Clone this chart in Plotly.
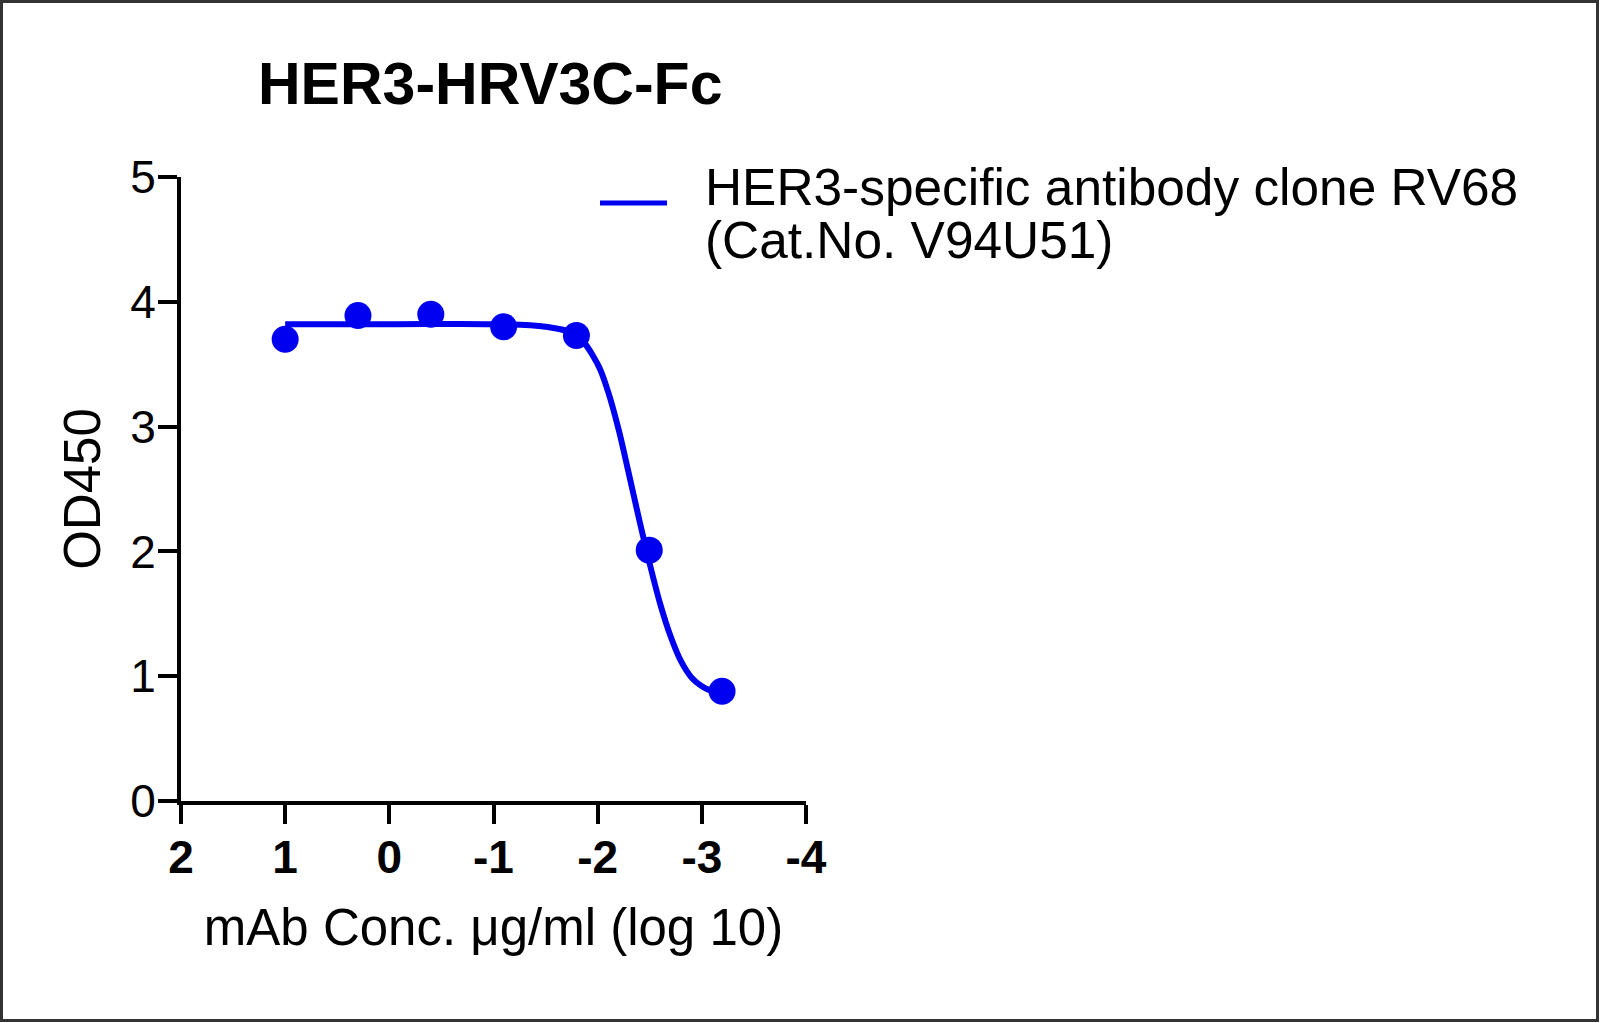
import plotly.graph_objects as go

# ---- data ----
log_conc = [1.0, 0.301, -0.398, -1.097, -1.796, -2.495, -3.194]
od450 = [3.70, 3.89, 3.90, 3.80, 3.73, 2.01, 0.88]

fit_x = [1.0, 0.0, -1.0, -1.5, -1.8, -2.0, -2.1, -2.2, -2.3, -2.4, -2.5,
         -2.6, -2.7, -2.8, -2.9, -3.0, -3.1, -3.2]
fit_y = [3.82, 3.82, 3.82, 3.80, 3.73, 3.50, 3.28, 2.98, 2.62, 2.25, 1.90,
         1.58, 1.32, 1.12, 0.99, 0.92, 0.88, 0.86]

x_tick_vals = [2, 1, 0, -1, -2, -3, -4]
x_tick_text = ["2", "1", "0", "-1", "-2", "-3", "-4"]
y_tick_vals = [0, 1, 2, 3, 4, 5]
y_tick_text = ["0", "1", "2", "3", "4", "5"]

title_text = "HER3-HRV3C-Fc"
legend_line1 = "HER3-specific antibody clone RV68"
legend_line2 = "(Cat.No. V94U51)"
x_title = "mAb Conc. μg/ml (log 10)"
y_title = "OD450"

# ---- layout geometry ----
W, H = 1600, 1023
L, R, T, B = 181, 1600 - 806, 177, 1023 - 801
PW, PH = W - L - R, H - T - B
FONT = "Liberation Sans, Arial, sans-serif"
BLUE = "#0000F0"


def px_x(p):
    return (p - L) / PW


def px_y(p):
    return (H - B - p) / PH


fig = go.Figure()
fig.add_trace(go.Scatter(x=fit_x, y=fit_y, mode="lines", line_shape="spline",
                         line=dict(color=BLUE, width=6), showlegend=False,
                         hoverinfo="skip"))
fig.add_trace(go.Scatter(x=log_conc, y=od450, mode="markers",
                         marker=dict(color=BLUE, size=27, line=dict(width=0)),
                         showlegend=False))

axis_common = dict(showline=True, linecolor="black", linewidth=4,
                   ticks="outside", ticklen=19, tickwidth=4, tickcolor="black",
                   showgrid=False, zeroline=False, mirror=False)

fig.update_xaxes(range=[2, -4], tickmode="array", tickvals=x_tick_vals,
                 ticktext=x_tick_text, ticklabelstandoff=-6,
                 tickfont=dict(family=FONT, size=46, color="black", weight="bold"),
                 title=dict(text=x_title, font=dict(family=FONT, size=51, color="black"),
                            standoff=28),
                 **axis_common)
fig.update_yaxes(range=[0, 5], tickmode="array", tickvals=y_tick_vals,
                 ticktext=y_tick_text, ticklabelstandoff=-7,
                 tickfont=dict(family=FONT, size=46, color="black"),
                 title=dict(text=y_title, font=dict(family=FONT, size=51, color="black"),
                            standoff=14),
                 **axis_common)

shapes = [
    # legend sample line
    dict(type="line", xref="paper", yref="paper",
         x0=px_x(600), x1=px_x(667), y0=px_y(203), y1=px_y(203),
         line=dict(color=BLUE, width=5)),
    # outer frame
    dict(type="rect", xref="paper", yref="paper",
         x0=px_x(1.5), x1=px_x(W - 2.5), y0=px_y(H - 2.5), y1=px_y(1.5),
         line=dict(color="#333333", width=3), layer="below"),
]

annotations = [
    dict(text=legend_line1, xref="paper", yref="paper", x=px_x(703), y=px_y(187),
         xanchor="left", yanchor="middle", showarrow=False,
         font=dict(family=FONT, size=51.4, color="black")),
    dict(text=legend_line2, xref="paper", yref="paper", x=px_x(703), y=px_y(240),
         xanchor="left", yanchor="middle", showarrow=False,
         font=dict(family=FONT, size=51.4, color="black")),
]

fig.update_layout(
    width=W, height=H,
    margin=dict(l=L, r=R, t=T, b=B, pad=0),
    paper_bgcolor="white", plot_bgcolor="white",
    title=dict(text="<b>" + title_text + "</b>", xref="container", yref="container",
               x=258 / W, xanchor="left", y=1 - 83 / H, yanchor="middle",
               font=dict(family=FONT, size=59, color="black")),
    shapes=shapes, annotations=annotations, showlegend=False,
)

fig.write_html("out.html", config={"displayModeBar": False},
               post_script="document.body.style.margin='0';"
                           "document.body.style.overflow='hidden';")
